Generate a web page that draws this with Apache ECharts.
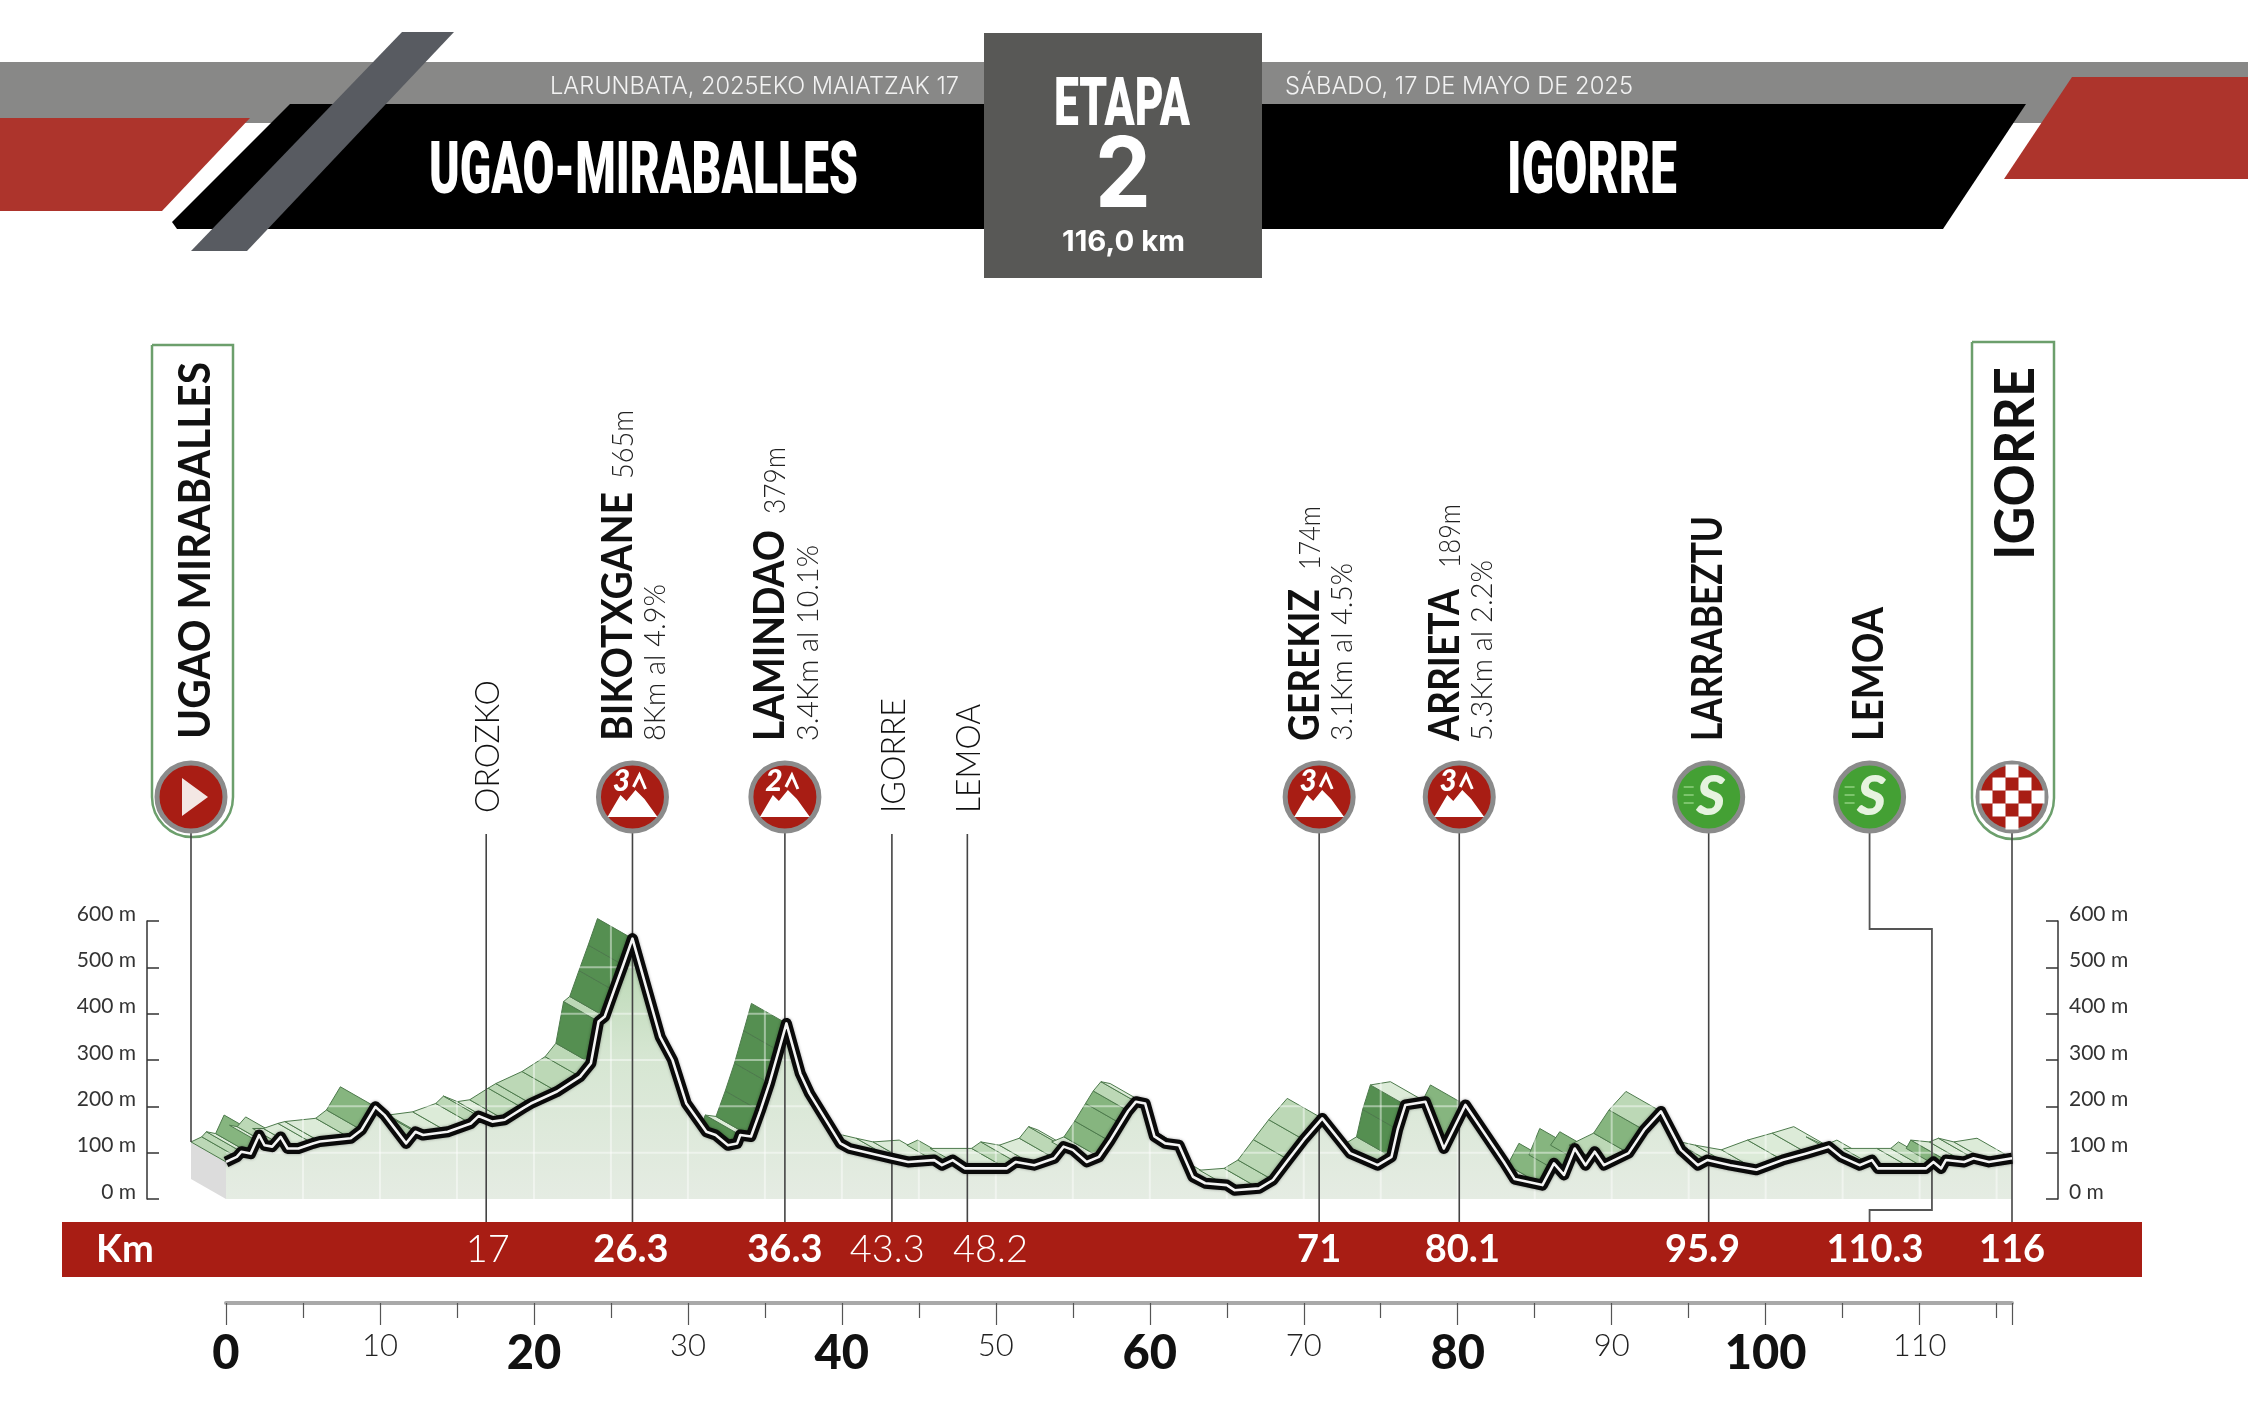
<!DOCTYPE html>
<html><head><meta charset="utf-8">
<style>html,body{margin:0;padding:0;background:#fff}#c{width:2248px;height:1412px}</style>
<script src="https://cdn.jsdelivr.net/npm/echarts@6/dist/echarts.min.js"></script>
</head><body><div id="c"></div>
<script>
// ---------- data ----------
const profileKm = [0,0.7,1,1.6,2.15,2.5,3,3.55,4,4.7,5.65,6.1,8.1,8.8,9.7,10.3,11.7,12.3,12.8,14.4,15.9,16.4,17.3,18.1,19.3,19.8,21.5,23,23.7,24.2,24.6,25.2,25.8,26.4,28.2,29,29.9,31.2,31.8,32.6,33.2,33.4,34.1,34.7,35.3,35.9,36.4,37.3,37.9,39.9,40.5,43.2,44.3,46,46.5,47.2,48,50.7,51.3,52.5,53.8,54.4,55,55.9,56.7,57.4,58.1,58.6,59.1,59.7,60.3,61,61.9,62.8,63.6,65,65.5,67.1,68,69,70,71.2,73,74.8,75.7,76.1,76.6,77.9,79.1,80.5,83,83.7,85.5,86.25,86.9,87.6,88.3,88.9,89.5,91.1,92.1,93.2,94.5,95.6,96.2,97.7,99.4,101.1,102.7,104.1,104.9,106.1,106.9,107.3,109.5,110.4,110.9,111.4,111.7,112.9,113.5,114.5,116];
const profileEle = [80,91,102,98,138,116,113,134,109,109,120,124,131,149,199,181,120,145,138,145,163,179,167,171,196,206,232,264,293,383,394,450,505,562,350,300,206,145,138,116,120,138,135,190,250,320,379,271,228,120,109,88,80,84,73,84,66,66,80,73,88,113,106,80,91,125,163,190,210,206,135,120,116,48,34,30,19,23,41,85,128,174,99,73,91,150,203,210,109,203,80,43,30,77,52,109,73,102,73,99,149,189,106,73,84,73,63,84,99,113,91,73,84,66,66,66,80,66,84,80,88,80,88];

const gridKm = [5,10,15,20,25,30,35,40,45,50,55,60,65,70,75,80,85,90,95,100,105,110,115];
const gridEle = [100,200,300,400,500];

const startName = 'UGAO MIRABALLES';
const markerNames = ['OROZKO','BIKOTXGANE','LAMINDAO','IGORRE','LEMOA','GEREKIZ','ARRIETA','LARRABEZTU','LEMOA','IGORRE'];
const markerKinds = ['plain','climb3','climb2','plain','plain','climb3','climb3','sprint','sprint','finish'];
const markerKm = [16.9,26.4,36.3,43.25,48.15,71,80.1,96.3,106.75,116];
const markerKmText = ['17','26.3','36.3','43.3','48.2','71','80.1','95.9','110.3','116'];
const markerHeights = ['','565m','379m','','','174m','189m','','',''];
const markerGrades = ['','8Km al 4.9%','3.4Km al 10.1%','','','3.1Km al 4.5%','5.3Km al 2.2%','','',''];

const headerLeftDate = 'LARUNBATA, 2025EKO MAIATZAK 17';
const headerRightDate = 'SÁBADO, 17 DE MAYO DE 2025';
const headerFrom = 'UGAO-MIRABALLES';
const headerTo = 'IGORRE';
const stageWord = 'ETAPA', stageNumber = '2', stageLength = '116,0 km';

// ---------- layout (pixels, colours) ----------
const G = {left:226, right:2012, top:921, bottom:1199};
const BACK = {dx:-35, dy:-20};
const BAND = {x:62, y:1222, w:2080, h:55, text:1250};
const CY = 797, R = 34;
const RED = '#a81d14';
const SANS = 'Lato';
const COND = 'Roboto';

const cv = document.createElement('canvas').getContext('2d');
function fit(text, size, weight, family, width){
  cv.font = weight+' '+size+'px "'+family+'"';
  return width / cv.measureText(text).width;
}
function gText(text, x, cy, size, weight, family, width, fill){
  return {type:'text', x:x, y:cy, scaleX:fit(text,size,weight,family,width), silent:true,
    style:{text:text, fontSize:size, fontWeight:weight, fontFamily:family, fill:fill||'#fff', align:'left', verticalAlign:'middle'}};
}
function poly(pts, fill, extra){
  return Object.assign({type:'polygon', silent:true, shape:{points:pts}, style:{fill:fill}}, extra||{});
}
// rotated label, reads bottom to top, starts at y = bottomY
function vText(text, cx, bottomY, size, weight, length, fill){
  return {type:'text', x:cx, y:bottomY, rotation:Math.PI/2, scaleX:fit(text,size,weight,SANS,length), silent:true,
    style:{text:text, fontSize:size, fontWeight:weight, fontFamily:SANS, fill:fill||'#111', align:'left', verticalAlign:'middle'}};
}

const headerGraphics = [
  {type:'rect', silent:true, shape:{x:0,y:62,width:2248,height:61}, style:{fill:'#888887'}},
  poly([[0,118],[250,118],[162,211],[0,211]], '#ad342c'),
  poly([[2072,77],[2248,77],[2248,179],[2004,179]], '#ad342c'),
  poly([[290,104],[985,104],[985,229],[177,229],[172,222]], '#000'),
  poly([[1262,104],[2026,104],[1943,229],[1262,229]], '#000'),
  poly([[402,32],[454,32],[247,251],[191,251]], '#585b61'),
  {type:'rect', silent:true, shape:{x:984,y:33,width:278,height:245}, style:{fill:'#585856'}},
  gText(headerLeftDate, 550, 87, 24, 300, 'Inter', 409, '#f2f2f2'),
  gText(headerRightDate, 1285, 87, 24, 300, 'Inter', 348, '#f2f2f2'),
  gText(headerFrom, 429, 175, 72, 900, COND, 429),
  gText(headerTo, 1507, 175, 72, 900, COND, 170),
  gText(stageWord, 1054, 108, 67, 900, COND, 136),
  gText(stageNumber, 1095, 178, 98, 700, 'Inter', 56),
  gText(stageLength, 1062, 243, 28, 700, 'Inter', 123),
  // lozenges round start and finish
  {type:'rect', silent:true, shape:{x:152,y:345,width:81,height:492,r:[0,0,40,40]}, style:{fill:'none',stroke:'#6c9f6c',lineWidth:2.5}},
  {type:'rect', silent:true, shape:{x:1972,y:342,width:82,height:497,r:[0,0,41,41]}, style:{fill:'none',stroke:'#6c9f6c',lineWidth:2.5}},
  // red kilometre band
  {type:'rect', silent:true, shape:{x:BAND.x,y:BAND.y,width:BAND.w,height:BAND.h}, style:{fill:RED}},
  {type:'text', silent:true, x:96, y:BAND.text, style:{text:'Km', fontSize:38, fontWeight:700, fontFamily:SANS, fill:'#fff', align:'left', verticalAlign:'middle'}},
];

const points = profileKm.map((k,i)=>[k, profileEle[i]]);
const segments = profileKm.slice(1).map((k,i)=>[profileKm[i], profileEle[i], k, profileEle[i+1]]);

function shade(grade){
  if (grade < 15) return '#dcebd8';
  if (grade < 45) return '#bcd8b6';
  if (grade < 82) return '#86b57f';
  return '#558f51';
}

function renderSegment(params, api){
  const a = api.coord([api.value(0), api.value(1)]);
  const b = api.coord([api.value(2), api.value(3)]);
  const grade = (api.value(3)-api.value(1)) / (api.value(2)-api.value(0));
  const children = [];
  if (params.dataIndex === 0){
    const base = api.coord([api.value(0), 0]);
    children.push({type:'polygon', shape:{points:[base,a,[a[0]+BACK.dx,a[1]+BACK.dy],[base[0]+BACK.dx,base[1]+BACK.dy]]},
      style:{fill:'#dcdcdc'}});
  }
  // the face turned away from the viewer stays hidden
  if ((b[1]-a[1])/(b[0]-a[0]) <= BACK.dy/BACK.dx){
    children.push({type:'polygon', shape:{points:[a,b,[b[0]+BACK.dx,b[1]+BACK.dy],[a[0]+BACK.dx,a[1]+BACK.dy]]},
      style:{fill:shade(grade), stroke:'#4d7a4c', lineWidth:1}});
  }
  return {type:'group', children:children};
}

function renderGrid(params, api){
  const isKm = api.value(0) === 0;
  const a = isKm ? api.coord([api.value(1),0]) : api.coord([0,api.value(1)]);
  const b = isKm ? api.coord([api.value(1),600]) : api.coord([116,api.value(1)]);
  return {type:'line', shape:{x1:a[0],y1:a[1],x2:b[0],y2:b[1]}, style:{stroke:'#fff', lineWidth:2, opacity:0.45}};
}

function badge(kind, x){
  const ring = {type:'circle', shape:{cx:x,cy:CY,r:R}, style:{fill:kind==='sprint'?'#44a034':RED, stroke:'#8b8b8b', lineWidth:5}};
  const out = [ring];
  if (kind === 'start'){
    out.push({type:'polygon', shape:{points:[[x-9,CY-19],[x+17,CY],[x-9,CY+19]]}, style:{fill:'#f3e7e4'}});
  } else if (kind === 'climb3' || kind === 'climb2'){
    out.push({type:'polygon', shape:{points:[[x-25,CY+20],[x-12,CY-2],[x-6,CY+4],[x+3,CY-7],[x+12,CY+2],[x+25,CY+20]]}, style:{fill:'#fff'}});
    out.push({type:'polyline', shape:{points:[[x+1,CY-10],[x+7,CY-22],[x+13,CY-8]]}, style:{fill:'none',stroke:'#fff',lineWidth:3}});
    out.push({type:'text', x:x-11, y:CY-16, style:{text:kind==='climb3'?'3':'2', fontSize:30, fontWeight:900, fontStyle:'italic', fontFamily:SANS, fill:'#fff', align:'center', verticalAlign:'middle'}});
  } else if (kind === 'sprint'){
    out.push({type:'text', x:x+2, y:CY, style:{text:'S', fontSize:56, fontWeight:900, fontStyle:'italic', fontFamily:SANS, fill:'#e6f3df', align:'center', verticalAlign:'middle'}});
    [-10,-2,6].forEach(d=>out.push({type:'line', shape:{x1:x-25,y1:CY+d,x2:x-15,y2:CY+d}, style:{stroke:'#7cc46c',lineWidth:2}}));
  } else if (kind === 'finish'){
    const s = 13;
    for (let r=-2;r<=2;r++) for (let c=-2;c<=2;c++){
      if ((r+c)%2!==0) continue;
      if (Math.hypot(r*s,c*s) > R) continue;
      out.push({type:'rect', shape:{x:x+c*s-s/2,y:CY+r*s-s/2,width:s,height:s}, style:{fill:'#fff'}});
    }
  }
  return out;
}

function renderStart(params, api){
  const x = api.coord([api.value(0),0])[0] + BACK.dx;
  const yEnd = api.coord([0,profileEle[0]])[1] + BACK.dy;
  return {type:'group', children:[
    {type:'line', shape:{x1:x,y1:CY+R,x2:x,y2:yEnd}, style:{stroke:'#444',lineWidth:1.6}},
    ...badge('start',x),
    vText(startName, x+5, 739, 43, 700, 377),
  ]};
}

function renderMarker(params, api){
  const i = params.dataIndex;
  const kind = markerKinds[i];
  const x = api.coord([api.value(0),0])[0];
  const kids = [];
  if (markerKmText[i] === '110.3'){
    const xb = api.coord([110.8,0])[0];
    kids.push({type:'polyline', shape:{points:[[x,CY+R],[x,929],[xb,929],[xb,1210],[x,1210],[x,BAND.y]]}, style:{fill:'none',stroke:'#555',lineWidth:1.8}});
  } else {
    const top = kind==='plain' ? 834 : CY+R;
    kids.push({type:'line', shape:{x1:x,y1:top,x2:x,y2:BAND.y}, style:{stroke:'#444',lineWidth:1.6}});
  }
  const name = markerNames[i];
  if (kind === 'plain'){
    kids.push(vText(name, x+2, 813, 34, 300, {OROZKO:133,IGORRE:115,LEMOA:109}[name]));
  } else {
    kids.push(...badge(kind,x));
    if (kind === 'finish'){
      kids.push(vText(name, x+4, 560, 56, 700, 193));
    } else if (kind === 'sprint'){
      kids.push(vText(name, x, 741, 42, 700, {LARRABEZTU:225,LEMOA:134}[name]));
    } else {
      const len = {BIKOTXGANE:249,LAMINDAO:211,GEREKIZ:152,ARRIETA:152}[name];
      const elev = {BIKOTXGANE:[479,69],LAMINDAO:[514,67],GEREKIZ:[570,64],ARRIETA:[568,64]}[name];
      const gradeLen = {BIKOTXGANE:157,LAMINDAO:196,GEREKIZ:178,ARRIETA:181}[name];
      kids.push(vText(name, x-14, 741, 42, 700, len));
      kids.push(vText(markerHeights[i], x-9, elev[0], 29, 300, elev[1], '#222'));
      kids.push(vText(markerGrades[i], x+23, 741, 30, 300, gradeLen, '#222'));
    }
  }
  // kilometre text inside the red band
  const labelKm = {'43.3':42.95,'48.2':49.65,'80.1':80.3,'110.3':107.1}[markerKmText[i]];
  const lx = labelKm !== undefined ? api.coord([labelKm,0])[0] : api.coord([parseFloat(markerKmText[i]),0])[0];
  kids.push({type:'text', x:lx, y:BAND.text, style:{text:markerKmText[i], fontSize:38,
    fontWeight:kind==='plain'?300:700, fontFamily:SANS, fill:'#fff', align:'center', verticalAlign:'middle'}});
  return {type:'group', children:kids};
}

const yBase = {type:'value', min:0, max:600, interval:100, splitLine:{show:false},
  axisLine:{show:true, onZero:false, lineStyle:{color:'#333',width:1.5}},
  axisTick:{show:true, inside:true, length:12, lineStyle:{color:'#333',width:1.5}},
};
const yLabel = {margin:11, formatter:'{value} m', fontSize:21, fontFamily:SANS, color:'#333', verticalAlign:'bottom', lineHeight:14};

const option = {
  animation:false,
  backgroundColor:'#fff',
  graphic:{elements:headerGraphics},
  grid:{left:G.left, top:G.top, width:G.right-G.left, height:G.bottom-G.top},
  xAxis:{type:'value', min:0, max:116, interval:10, splitLine:{show:false},
    offset:104,
    axisLine:{show:true, onZero:false, lineStyle:{color:'#a9a9a9',width:4}},
    axisTick:{show:true, length:22, lineStyle:{color:'#555',width:1.2}},
    minorTick:{show:true, splitNumber:2, length:15, lineStyle:{color:'#555',width:1.2}},
    axisLabel:{margin:27, showMaxLabel:false, showMinLabel:true, hideOverlap:false,
      formatter:v=> v%20===0 ? '{b|'+v+'}' : '{t|'+v+'}',
      rich:{b:{fontSize:47,fontWeight:900,fontFamily:SANS,color:'#111',verticalAlign:'top',lineHeight:54},
            t:{fontSize:31,fontWeight:300,fontFamily:SANS,color:'#222',verticalAlign:'top',lineHeight:40}}}
  },
  yAxis:[
    Object.assign({}, yBase, {position:'left', offset:79, axisLabel:yLabel}),
    Object.assign({}, yBase, {position:'right', offset:46, axisLabel:yLabel})
  ],
  series:[
    {type:'custom', name:'faces', z:2, silent:true, clip:false, renderItem:renderSegment, data:segments, encode:{x:[0,2],y:[1,3]}},
    {type:'line', name:'area', data:points, z:3, showSymbol:false, silent:true, clip:false,
      lineStyle:{width:0},
      areaStyle:{opacity:1, color:{type:'linear',x:0,y:0,x2:0,y2:1,colorStops:[
        {offset:0,color:'#b6d6b0'},{offset:0.45,color:'#d6e6d2'},{offset:1,color:'#e5ece3'}]}}},
    {type:'custom', name:'grid-km', z:4, silent:true, clip:false, renderItem:renderGrid,
      data:gridKm.map(k=>[0,k]).concat(gridEle.map(e=>[1,e])), encode:{x:1}},
    {type:'custom', name:'markers', z:5, silent:true, clip:false, renderItem:renderMarker, data:markerKm.map(k=>[k]), encode:{x:0}},
    {type:'custom', name:'start', z:5, silent:true, clip:false, renderItem:renderStart, data:[[0]], encode:{x:0}},
    {type:'line', name:'outline', data:points, z:6, showSymbol:false, silent:true, clip:false,
      lineStyle:{color:'#0a0a0a',width:11,join:'round',cap:'butt',shadowColor:'rgba(0,0,0,0.35)',shadowBlur:3}},
    {type:'line', name:'core', data:points, z:7, showSymbol:false, silent:true, clip:false,
      lineStyle:{color:'#f4f4f4',width:2.6,join:'round',cap:'butt'}},
  ]
};
echarts.init(document.getElementById('c'), null, {renderer:'canvas'}).setOption(option);
</script></body></html>
